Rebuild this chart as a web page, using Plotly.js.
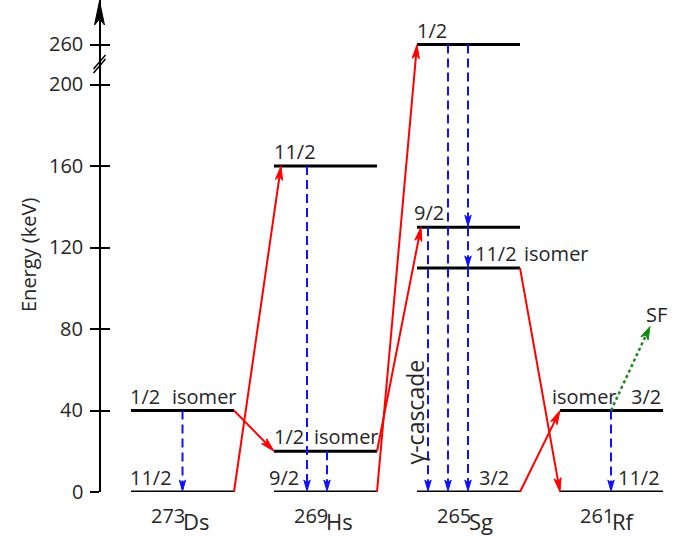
<!DOCTYPE html>
<html><head><meta charset="utf-8">
<script src="https://cdn.plot.ly/plotly-3.0.1.min.js"></script>
<style>html,body{margin:0;padding:0;background:#fff}#chart{width:696px;height:540px}</style>
</head><body><div id="chart"></div>
<script>
// ---------------- data ----------------
const elements = ['Ds', 'Hs', 'Sg', 'Rf'];
const massNumbers = ['273', '269', '265', '261'];
// levels
const levelNuclide = [0, 0, 1, 1, 1, 2, 2, 2, 2, 3, 3];
const levelEnergy  = [0, 40, 0, 20, 160, 0, 110, 130, 260, 0, 40];
const levelSpin    = ['11/2', '1/2', '9/2', '1/2', '11/2', '3/2', '11/2', '9/2', '1/2', '11/2', '3/2'];
const levelTag     = ['', 'isomer', '', 'isomer', '', '', 'isomer', '', '', '', 'isomer'];
// alpha decays (level index -> level index)
const alphaFrom = [0, 1, 2, 3, 6, 5];
const alphaTo   = [4, 3, 8, 7, 9, 10];
// gamma transitions (level index -> level index)
const gammaFrom = [1, 4, 3, 7, 8, 8, 7, 6, 10];
const gammaTo   = [0, 2, 2, 5, 5, 7, 6, 5, 9];
// spontaneous fission
const fissionLevel = 10;
const fissionLabel = 'SF';
const cascadeLabel = 'γ-cascade';
// axis
const yTickVals = [0, 40, 80, 120, 160, 200, 260];
const yTickText = ['0', '40', '80', '120', '160', '200', '260'];
const yTitle = 'Energy (keV)';

// ---------------- layout / style ----------------
const W = 696, H = 540, ML = 60, MB = 48;
const PX_COL = 143, COL0_PX = 182.5, HALF_W = 51.5;
const AXIS_PX = 99.5;
const PLOT_H = H - MB;
const Y_TOP = 241.5;
const PX_KEV = PLOT_H / Y_TOP;
const xr0 = (ML - COL0_PX) / PX_COL, xr1 = xr0 + (W - ML) / PX_COL;
const axisPos = (AXIS_PX - ML) / (W - ML);
function colX(i, dpx) { return i + dpx / PX_COL; }
function yMap(e) { return e <= 200 ? e : 200 + (e - 200) * (19.6 / 60); }

const FONT = 'Open Sans, sans-serif';
const TXT = '#262626';
const FS = 20;
const BLUE = '#1010ff', RED = '#ff0000', GREEN = '#138a13';

// style: gamma lane offsets (px from level centre), per gamma
const gammaLane = [0, -18.5, 1.5, -40.5, -20.5, -0.5, -0.5, -0.5, -0.5];
// style: alpha tip offsets (px from daughter level's left end)
const alphaTipDx = [7, 0, 0, 4, 0, 0];
// style: label placements (px from level left end)
const spinDx = [-3, -3, -7, -2, -2, 60, 56, -5, -2, 56, 69];
const tagDx  = [0, 39, 0, 38, 0, 0, 105, 0, 0, 0, -10];

const traces = [];
const annotations = [];
const shapes = [];

// narrow notched arrowhead drawn as a pixel-sized path anchored at the tip
function arrowHead(xFrom, yFrom, xTo, yTo, color, L, w, notch, xref, yref) {
  let dx = (xTo - xFrom) * PX_COL, dy = (yTo - yFrom) * PX_KEV;
  if (xref === 'paper') dx = 0;
  const len = Math.hypot(dx, dy) || 1;
  const ux = dx / len, uy = dy / len, px = -uy, py = ux;
  const f = v => v.toFixed(2);
  const path = `M0,0 L${f(-L * ux + w * px)},${f(-L * uy + w * py)} L${f(-(L - notch) * ux)},${f(-(L - notch) * uy)} L${f(-L * ux - w * px)},${f(-L * uy - w * py)} Z`;
  shapes.push({type: 'path', xref: xref || 'x', yref: yref || 'y', xsizemode: 'pixel', ysizemode: 'pixel',
    xanchor: xTo, yanchor: yTo, path: path, fillcolor: color, line: {color: color, width: 1}, layer: 'above'});
}

// level lines
const lx = [], ly = [];
levelEnergy.forEach((e, i) => {
  const n = levelNuclide[i];
  lx.push(colX(n, -HALF_W), colX(n, HALF_W), null);
  ly.push(yMap(e), yMap(e), null);
});
traces.push({x: lx, y: ly, mode: 'lines', line: {color: '#000', width: 3}, cliponaxis: false, hoverinfo: 'skip'});

// gamma transitions
const gx = [], gy = [];
gammaFrom.forEach((f, k) => {
  const t = gammaTo[k];
  const n = levelNuclide[f];
  const x = colX(n, gammaLane[k]);
  const y0 = yMap(levelEnergy[f]), y1 = yMap(levelEnergy[t]);
  gx.push(x, x, null);
  gy.push(y0, y1 + 3 / PX_KEV, null);
  arrowHead(x, y0, x, y1 + 1 / PX_KEV, BLUE, 11, 3.2, 3);
});
traces.push({x: gx, y: gy, mode: 'lines', line: {color: BLUE, width: 2, dash: '9px,5px'}, cliponaxis: false, hoverinfo: 'skip'});

// alpha decays
const ax_ = [], ay_ = [];
alphaFrom.forEach((f, k) => {
  const t = alphaTo[k];
  const x0 = colX(levelNuclide[f], HALF_W), y0 = yMap(levelEnergy[f]);
  const x1 = colX(levelNuclide[t], -HALF_W + alphaTipDx[k]), y1 = yMap(levelEnergy[t]);
  const dx = (x1 - x0) * PX_COL, dy = (y1 - y0) * PX_KEV, len = Math.hypot(dx, dy);
  const s = 1 - 6 / len;
  ax_.push(x0, x0 + (x1 - x0) * s, null);
  ay_.push(y0, y0 + (y1 - y0) * s, null);
  arrowHead(x0, y0, x1, y1, RED, 14, 3.6, 3.5);
});
traces.push({x: ax_, y: ay_, mode: 'lines', line: {color: RED, width: 2}, cliponaxis: false, hoverinfo: 'skip'});

// spontaneous fission
{
  const n = levelNuclide[fissionLevel];
  const x0 = colX(n, -0.5), y0 = yMap(levelEnergy[fissionLevel]);
  const x1 = colX(n, 38.5), y1 = y0 + 84 / PX_KEV;
  const s = 1 - 6 / Math.hypot((x1 - x0) * PX_COL, (y1 - y0) * PX_KEV);
  traces.push({x: [x0, x0 + (x1 - x0) * s], y: [y0, y0 + (y1 - y0) * s], mode: 'lines',
    line: {color: GREEN, width: 2.5, dash: 'dot'}, cliponaxis: false, hoverinfo: 'skip'});
  arrowHead(x0, y0, x1, y1, GREEN, 13, 4, 3.5);
  annotations.push({x: x1, y: y1, xref: 'x', yref: 'y', text: fissionLabel, showarrow: false,
    xanchor: 'left', yanchor: 'bottom', xshift: -6, yshift: -3, font: {family: FONT, size: FS, color: TXT}});
}

// level labels
levelEnergy.forEach((e, i) => {
  const n = levelNuclide[i];
  annotations.push({x: colX(n, -HALF_W + spinDx[i]), y: yMap(e), xref: 'x', yref: 'y', text: levelSpin[i],
    showarrow: false, xanchor: 'left', yanchor: 'bottom', yshift: -1, font: {family: FONT, size: FS, color: TXT}});
  if (levelTag[i]) {
    annotations.push({x: colX(n, -HALF_W + tagDx[i]), y: yMap(e), xref: 'x', yref: 'y', text: levelTag[i],
      showarrow: false, xanchor: 'left', yanchor: 'bottom', yshift: -1, font: {family: FONT, size: FS, color: TXT}});
  }
});

// gamma-cascade label
annotations.push({x: colX(2, -53.5), y: yMap(39), xref: 'x', yref: 'y', text: cascadeLabel, textangle: -90,
  showarrow: false, xanchor: 'center', yanchor: 'middle', font: {family: FONT, size: 23, color: TXT}});

// y-axis title
annotations.push({x: (28 - ML) / (W - ML), y: (PLOT_H - 255) / PLOT_H, xref: 'paper', yref: 'paper',
  text: yTitle, textangle: -90, showarrow: false, xanchor: 'center', yanchor: 'middle',
  font: {family: FONT, size: 20, color: TXT}});

// y tick labels
yTickVals.forEach((v, k) => {
  annotations.push({x: axisPos, y: yMap(v), xref: 'paper', yref: 'y', text: yTickText[k],
    showarrow: false, xanchor: 'right', yanchor: 'middle', xshift: -15, yshift: 1,
    font: {family: FONT, size: 20, color: TXT}});
});

// nuclide labels
elements.forEach((el, i) => {
  annotations.push({x: colX(i, 1), y: -39 / PLOT_H, xref: 'x', yref: 'paper', text: massNumbers[i],
    showarrow: false, xanchor: 'right', yanchor: 'bottom', xshift: 3, font: {family: FONT, size: FS, color: TXT}});
  annotations.push({x: colX(i, 1), y: -46 / PLOT_H, xref: 'x', yref: 'paper', text: el,
    showarrow: false, xanchor: 'left', yanchor: 'bottom', xshift: -3, font: {family: FONT, size: 22, color: TXT}});
});

// axis arrowhead (narrow, notched)
arrowHead(0, 0, 0, (PLOT_H - 1) / PX_KEV, '#000', 24, 5, 6, 'paper', 'y');
shapes[shapes.length - 1].xanchor = axisPos;

// axis break marks
[-2, 2].forEach(d => {
  shapes.push({type: 'line', xref: 'paper', yref: 'y', xsizemode: 'pixel', ysizemode: 'pixel',
    xanchor: axisPos, yanchor: (PLOT_H - 64) / PX_KEV + d / PX_KEV,
    x0: -6, x1: 6, y0: -7, y1: 7, line: {color: '#000', width: 1.5}});
});

const yCommon = {range: [0, Y_TOP], fixedrange: true, showgrid: false, zeroline: false,
  tickmode: 'array', tickvals: yTickVals.map(yMap), anchor: 'free', position: axisPos,
  ticklen: 9, tickwidth: 2, tickcolor: '#000', showticklabels: false};

const layout = {
  width: W, height: H, margin: {l: ML, r: 0, t: 0, b: MB},
  font: {family: FONT, size: FS, color: TXT},
  paper_bgcolor: '#fff', plot_bgcolor: '#fff', showlegend: false,
  xaxis: {range: [xr0, xr1], visible: false, fixedrange: true},
  yaxis: Object.assign({}, yCommon, {ticks: 'outside',
    showline: true, linecolor: '#000', linewidth: 2.5}),
  yaxis2: Object.assign({}, yCommon, {overlaying: 'y', ticks: 'inside', showline: false}),
  annotations: annotations,
  shapes: shapes
};
traces.push({x: [null], y: [null], yaxis: 'y2', hoverinfo: 'skip'});

Plotly.newPlot('chart', traces, layout, {staticPlot: true, displayModeBar: false});
</script>
</body></html>
